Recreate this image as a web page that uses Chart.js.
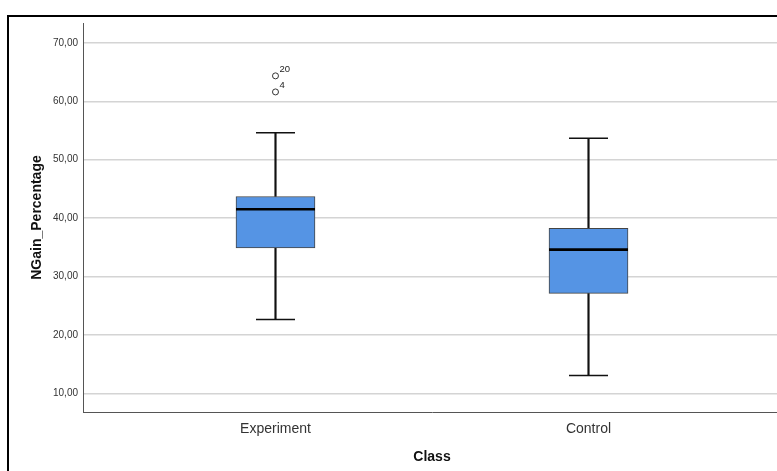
<!DOCTYPE html>
<html>
<head>
<meta charset="utf-8">
<script src="https://cdn.jsdelivr.net/npm/chart.js@4"></script>
<style>
  html, body { margin: 0; padding: 0; background: #fff; overflow: hidden; width: 777px; height: 471px; }
  #wrap { position: relative; width: 781px; height: 471px; }
  #frame { position: absolute; left: 7px; top: 15px; width: 900px; height: 600px;
           border-left: 2px solid #000; border-top: 2px solid #000; }
  #c { position: absolute; left: 0; top: 0; }
</style>
</head>
<body>
<div id="wrap">
  <div id="frame"></div>
  <canvas id="c" width="781" height="471"></canvas>
</div>
<script>
// ---- data ----
const categories   = ['Experiment', 'Control'];
const whiskerLow   = [22.65, 13.05];
const quartile1    = [34.9, 27.1];
const medianVals   = [41.5, 34.6];
const quartile3    = [43.7, 38.25];
const whiskerHigh  = [54.6, 53.65];
const outlierCat   = [0, 0];
const outlierVals  = [64.35, 61.6];
const outlierIds   = ['20', '4'];
const yTicks       = [10, 20, 30, 40, 50, 60, 70];
const xTitle = 'Class';
const yTitle = 'NGain_Percentage';

// ---- build datasets ----
const pos = i => i + 1;
const lowerWhiskerData = categories.map((c, i) => ({ x: pos(i), y: [whiskerLow[i], quartile1[i]] }));
const upperWhiskerData = categories.map((c, i) => ({ x: pos(i), y: [quartile3[i], whiskerHigh[i]] }));
const boxData = categories.map((c, i) => ({ x: pos(i), y: [quartile1[i], quartile3[i]] }));
const medianData = categories.map((c, i) => ({ x: pos(i), y: medianVals[i] }));
const capData = categories.flatMap((c, i) => [{ x: pos(i), y: whiskerLow[i] }, { x: pos(i), y: whiskerHigh[i] }]);
const outlierData = outlierVals.map((v, k) => ({ x: pos(outlierCat[k]), y: v, id: outlierIds[k] }));

const BOX_COLOR = '#5594e4';

const outlierLabelPlugin = {
  id: 'outlierLabels',
  afterDatasetsDraw(chart) {
    const idx = chart.data.datasets.findIndex(d => d.label === 'outliers');
    const meta = chart.getDatasetMeta(idx);
    const ctx = chart.ctx;
    ctx.save();
    ctx.font = '9.5px "Liberation Sans", Arial, sans-serif';
    ctx.fillStyle = '#222';
    ctx.textAlign = 'left';
    ctx.textBaseline = 'alphabetic';
    meta.data.forEach((pt, k) => {
      ctx.fillText(chart.data.datasets[idx].data[k].id, pt.x + 4, pt.y - 4);
    });
    ctx.restore();
  }
};

new Chart(document.getElementById('c'), {
  type: 'bar',
  data: {
    datasets: [
      { type: 'bar', label: 'lw', data: lowerWhiskerData, backgroundColor: '#111', borderWidth: 0,
        barThickness: 1.5, grouped: false, order: 6 },
      { type: 'bar', label: 'uw', data: upperWhiskerData, backgroundColor: '#111', borderWidth: 0,
        barThickness: 1.5, grouped: false, order: 6 },
      { type: 'bar', label: 'box', data: boxData, backgroundColor: BOX_COLOR, borderColor: '#444',
        borderWidth: 1, borderSkipped: false, barThickness: 79, grouped: false, order: 4 },
      { type: 'scatter', label: 'median', data: medianData, pointStyle: 'line', pointRadius: 39.5,
        pointBorderWidth: 2.6, borderColor: '#000', backgroundColor: '#000', order: 2 },
      { type: 'scatter', label: 'caps', data: capData, pointStyle: 'line', pointRadius: 19.5,
        pointBorderWidth: 1.5, borderColor: '#111', backgroundColor: '#111', order: 2 },
      { type: 'scatter', label: 'outliers', data: outlierData, pointStyle: 'circle', pointRadius: 3,
        pointBorderWidth: 1, borderColor: '#333', backgroundColor: '#fff', order: 1 }
    ]
  },
  options: {
    responsive: false,
    animation: false,
    events: [],
    layout: { autoPadding: false, padding: { left: 0, right: 0, top: 23, bottom: 0 } },
    plugins: { legend: { display: false }, tooltip: { enabled: false } },
    scales: {
      x: {
        type: 'linear',
        offset: false,
        min: 0.385, max: 2.615,
        afterBuildTicks: s => { s.ticks = categories.map((c, i) => ({ value: pos(i) })); },
        afterFit: s => { s.height = 59; s.paddingLeft = 0; s.paddingRight = 0; },
        grid: { display: false, drawTicks: false, offset: false },
        border: { display: true, color: '#555', width: 1 },
        ticks: {
          padding: 9,
          color: '#333',
          font: { family: '"Liberation Sans", Arial, sans-serif', size: 14 },
          callback: v => categories[v - 1] || ''
        },
        title: {
          display: true, text: xTitle, color: '#111',
          font: { family: '"Liberation Sans", Arial, sans-serif', size: 14, weight: 'bold' },
          padding: { top: 0, bottom: 5 }
        }
      },
      y: {
        type: 'linear',
        min: 6.8, max: 73.4,
        afterBuildTicks: s => { s.ticks = yTicks.map(v => ({ value: v })); },
        afterFit: s => { s.width = 83; s.paddingTop = 0; s.paddingBottom = 0; },
        grid: { color: '#d4d4d4', lineWidth: 1.5, drawTicks: false },
        border: { display: true, color: '#555', width: 1 },
        ticks: {
          padding: 5,
          color: '#333',
          font: { family: '"Liberation Sans", Arial, sans-serif', size: 10 },
          callback: v => v.toFixed(2).replace('.', ',')
        },
        title: {
          display: true, text: yTitle, color: '#111',
          font: { family: '"Liberation Sans", Arial, sans-serif', size: 14, weight: 'bold' },
          padding: { top: 29, bottom: 0 }
        }
      }
    }
  },
  plugins: [outlierLabelPlugin]
});
</script>
</body>
</html>
